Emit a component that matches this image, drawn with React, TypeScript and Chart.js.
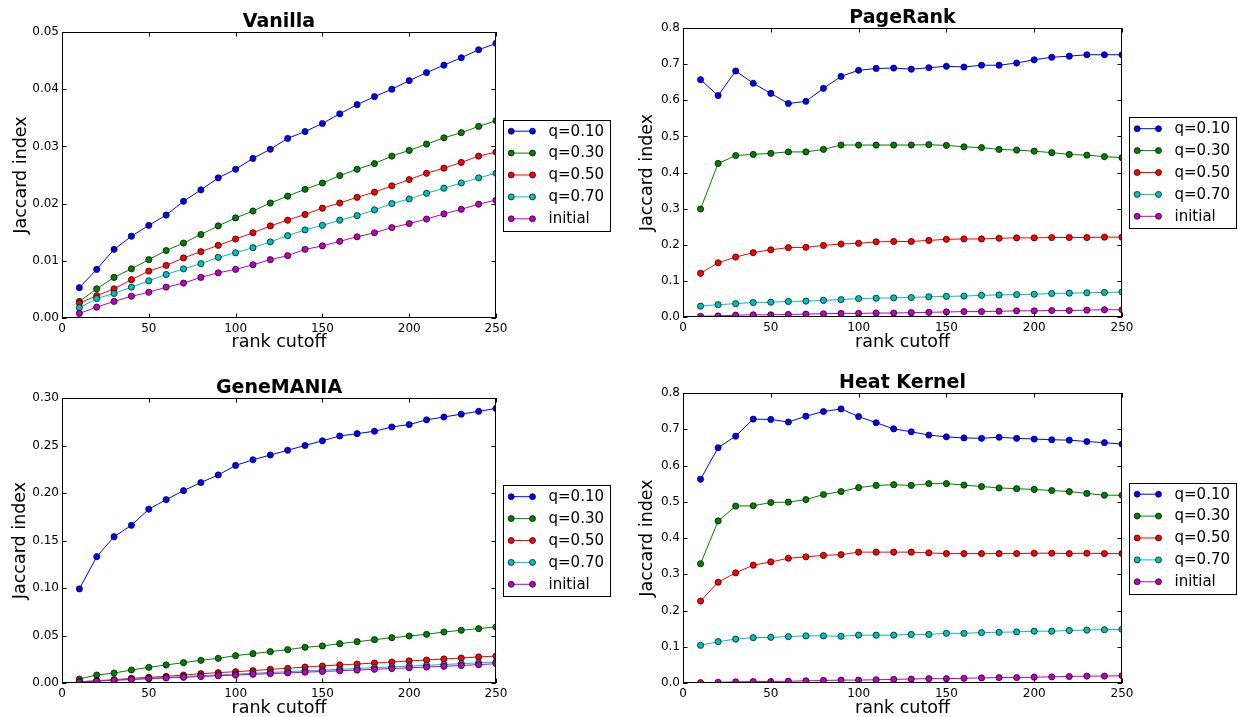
import React, { useEffect, useRef } from 'react';
import { Chart, registerables } from 'chart.js';

Chart.register(...registerables);

const FONT = "'DejaVu Sans', 'Bitstream Vera Sans', sans-serif";

// ---------- data ----------
const rankCutoffs = [10, 20, 30, 40, 50, 60, 70, 80, 90, 100, 110, 120, 130, 140, 150, 160, 170, 180, 190, 200, 210, 220, 230, 240, 250];
const seriesLabels = ['q=0.10', 'q=0.30', 'q=0.50', 'q=0.70', 'initial'];
const seriesColors = ['#0000ff', '#008000', '#ff0000', '#00bfbf', '#bf00bf'];
const xTickValues = [0, 50, 100, 150, 200, 250];

const vanillaQ10 = [0.0053, 0.0085, 0.0120, 0.0143, 0.0162, 0.0180, 0.0204, 0.0224, 0.0245, 0.0260, 0.0279, 0.0295, 0.0314, 0.0326, 0.0340, 0.0357, 0.0373, 0.0387, 0.0400, 0.0415, 0.0429, 0.0442, 0.0455, 0.0469, 0.0480];
const vanillaQ30 = [0.0029, 0.0051, 0.0071, 0.0086, 0.0102, 0.0118, 0.0131, 0.0146, 0.0161, 0.0175, 0.0187, 0.0201, 0.0213, 0.0225, 0.0236, 0.0249, 0.0260, 0.0270, 0.0283, 0.0293, 0.0304, 0.0315, 0.0324, 0.0335, 0.0345];
const vanillaQ50 = [0.0026, 0.0039, 0.0051, 0.0067, 0.0082, 0.0092, 0.0105, 0.0116, 0.0127, 0.0138, 0.0149, 0.0161, 0.0171, 0.0181, 0.0192, 0.0201, 0.0211, 0.0220, 0.0231, 0.0242, 0.0253, 0.0262, 0.0272, 0.0283, 0.0290];
const vanillaQ70 = [0.0018, 0.0034, 0.0043, 0.0054, 0.0065, 0.0076, 0.0086, 0.0095, 0.0106, 0.0114, 0.0123, 0.0133, 0.0144, 0.0154, 0.0162, 0.0171, 0.0179, 0.0189, 0.0200, 0.0208, 0.0218, 0.0227, 0.0236, 0.0245, 0.0253];
const vanillaInitial = [0.0008, 0.0019, 0.0029, 0.0038, 0.0045, 0.0054, 0.0061, 0.0071, 0.0079, 0.0085, 0.0093, 0.0102, 0.0109, 0.0120, 0.0126, 0.0134, 0.0142, 0.0149, 0.0158, 0.0165, 0.0173, 0.0182, 0.0190, 0.0199, 0.0206];

const pageRankQ10 = [0.657, 0.613, 0.681, 0.647, 0.619, 0.591, 0.597, 0.633, 0.666, 0.683, 0.688, 0.689, 0.686, 0.690, 0.694, 0.692, 0.697, 0.697, 0.703, 0.712, 0.719, 0.722, 0.726, 0.726, 0.726];
const pageRankQ30 = [0.299, 0.425, 0.447, 0.450, 0.453, 0.457, 0.457, 0.464, 0.476, 0.476, 0.476, 0.476, 0.476, 0.477, 0.475, 0.471, 0.469, 0.464, 0.462, 0.459, 0.455, 0.450, 0.448, 0.444, 0.441];
const pageRankQ50 = [0.121, 0.150, 0.166, 0.178, 0.186, 0.192, 0.193, 0.198, 0.202, 0.204, 0.208, 0.209, 0.209, 0.212, 0.215, 0.216, 0.216, 0.218, 0.219, 0.219, 0.220, 0.220, 0.220, 0.221, 0.221];
const pageRankQ70 = [0.030, 0.034, 0.037, 0.040, 0.041, 0.043, 0.044, 0.046, 0.048, 0.051, 0.052, 0.053, 0.054, 0.056, 0.057, 0.058, 0.060, 0.061, 0.062, 0.063, 0.065, 0.066, 0.067, 0.068, 0.069];
const pageRankInitial = [0.002, 0.003, 0.005, 0.006, 0.006, 0.007, 0.008, 0.009, 0.010, 0.010, 0.011, 0.011, 0.012, 0.013, 0.014, 0.015, 0.015, 0.016, 0.017, 0.017, 0.018, 0.018, 0.019, 0.020, 0.020];

const geneManiaQ10 = [0.099, 0.133, 0.154, 0.166, 0.183, 0.193, 0.2025, 0.211, 0.219, 0.229, 0.235, 0.240, 0.245, 0.250, 0.255, 0.260, 0.2625, 0.265, 0.2695, 0.272, 0.277, 0.280, 0.283, 0.286, 0.289];
const geneManiaQ30 = [0.0042, 0.0084, 0.0105, 0.0137, 0.0165, 0.0190, 0.0214, 0.0239, 0.0260, 0.0288, 0.0309, 0.0330, 0.0351, 0.0376, 0.0390, 0.0414, 0.0435, 0.0456, 0.0477, 0.0495, 0.0512, 0.0537, 0.0555, 0.0572, 0.0590];
const geneManiaQ50 = [0.0014, 0.0025, 0.0035, 0.0049, 0.0060, 0.0070, 0.0084, 0.0098, 0.0109, 0.0119, 0.0130, 0.0144, 0.0154, 0.0168, 0.0179, 0.0190, 0.0200, 0.0210, 0.0221, 0.0232, 0.0242, 0.0253, 0.0263, 0.0274, 0.0284];
const geneManiaQ70 = [0.0012, 0.0021, 0.0031, 0.0041, 0.0050, 0.0059, 0.0068, 0.0077, 0.0086, 0.0094, 0.0103, 0.0111, 0.0119, 0.0128, 0.0136, 0.0144, 0.0153, 0.0161, 0.0169, 0.0178, 0.0186, 0.0195, 0.0203, 0.0212, 0.0222];
const geneManiaInitial = [0.0010, 0.0019, 0.0028, 0.0037, 0.0045, 0.0053, 0.0060, 0.0068, 0.0076, 0.0083, 0.0091, 0.0099, 0.0106, 0.0114, 0.0121, 0.0129, 0.0136, 0.0144, 0.0152, 0.0160, 0.0168, 0.0176, 0.0184, 0.0193, 0.0203];

const heatKernelQ10 = [0.562, 0.649, 0.681, 0.728, 0.727, 0.720, 0.736, 0.749, 0.756, 0.735, 0.718, 0.701, 0.693, 0.684, 0.679, 0.676, 0.675, 0.678, 0.675, 0.673, 0.671, 0.670, 0.666, 0.663, 0.659];
const heatKernelQ30 = [0.329, 0.447, 0.488, 0.489, 0.498, 0.499, 0.506, 0.520, 0.528, 0.539, 0.545, 0.547, 0.545, 0.550, 0.550, 0.546, 0.542, 0.538, 0.536, 0.534, 0.531, 0.528, 0.523, 0.518, 0.518];
const heatKernelQ50 = [0.226, 0.278, 0.304, 0.325, 0.334, 0.344, 0.348, 0.352, 0.354, 0.361, 0.361, 0.361, 0.361, 0.359, 0.357, 0.357, 0.357, 0.357, 0.357, 0.358, 0.358, 0.357, 0.358, 0.357, 0.357];
const heatKernelQ70 = [0.104, 0.114, 0.121, 0.125, 0.126, 0.128, 0.130, 0.130, 0.129, 0.132, 0.132, 0.132, 0.134, 0.134, 0.137, 0.137, 0.139, 0.140, 0.141, 0.143, 0.143, 0.145, 0.146, 0.147, 0.148];
const heatKernelInitial = [0.001, 0.002, 0.003, 0.004, 0.004, 0.005, 0.006, 0.007, 0.008, 0.008, 0.009, 0.010, 0.011, 0.012, 0.012, 0.013, 0.014, 0.015, 0.015, 0.016, 0.017, 0.018, 0.019, 0.019, 0.020];

const vanillaYTicks = [0, 0.01, 0.02, 0.03, 0.04, 0.05];
const pageRankYTicks = [0, 0.1, 0.2, 0.3, 0.4, 0.5, 0.6, 0.7, 0.8];
const geneManiaYTicks = [0, 0.05, 0.1, 0.15, 0.2, 0.25, 0.3];
const heatKernelYTicks = [0, 0.1, 0.2, 0.3, 0.4, 0.5, 0.6, 0.7, 0.8];

// ---------- layout ----------
type Area = { L: number; T: number; R: number; B: number };
type PanelSpec = {
  title: string;
  series: number[][];
  yTicks: number[];
  decimals: number;
  x: number;
  y: number;
  w: number;
  h: number;
  area: Area;
  yTitlePad: number;
  xTitlePad: number;
};

const panels: PanelSpec[] = [
  {
    title: 'Vanilla',
    series: [vanillaQ10, vanillaQ30, vanillaQ50, vanillaQ70, vanillaInitial],
    yTicks: vanillaYTicks, decimals: 2,
    x: 0, y: 0, w: 619, h: 358,
    area: { L: 62, T: 32, R: 496, B: 318 },
    yTitlePad: 12.25, xTitlePad: 6.5,
  },
  {
    title: 'PageRank',
    series: [pageRankQ10, pageRankQ30, pageRankQ50, pageRankQ70, pageRankInitial],
    yTicks: pageRankYTicks, decimals: 1,
    x: 619, y: 0, w: 619, h: 358,
    area: { L: 64, T: 28, R: 503, B: 317 },
    yTitlePad: 19.85, xTitlePad: 6.5,
  },
  {
    title: 'GeneMANIA',
    series: [geneManiaQ10, geneManiaQ30, geneManiaQ50, geneManiaQ70, geneManiaInitial],
    yTicks: geneManiaYTicks, decimals: 2,
    x: 0, y: 358, w: 619, h: 359,
    area: { L: 62, T: 40, R: 496, B: 325 },
    yTitlePad: 12, xTitlePad: -0.5,
  },
  {
    title: 'Heat Kernel',
    series: [heatKernelQ10, heatKernelQ30, heatKernelQ50, heatKernelQ70, heatKernelInitial],
    yTicks: heatKernelYTicks, decimals: 1,
    x: 619, y: 358, w: 619, h: 359,
    area: { L: 64, T: 35, R: 503, B: 325 },
    yTitlePad: 19.85, xTitlePad: -0.5,
  },
];

function makePlugins(spec: PanelSpec) {
  const frame = {
    id: 'mplFrame',
    afterDatasetsDraw(chart: any) {
      const { ctx, chartArea } = chart;
      const { left, top, right, bottom } = chartArea;
      const xs = chart.scales.x;
      const ys = chart.scales.y;
      ctx.save();
      ctx.strokeStyle = '#000';
      ctx.lineWidth = 1;
      ctx.strokeRect(left + 0.5, top + 0.5, right - left - 1, bottom - top - 1);
      const tl = 4.5;
      ctx.beginPath();
      for (const v of xTickValues) {
        const px = Math.round(xs.getPixelForValue(v)) + 0.5;
        ctx.moveTo(px, bottom);
        ctx.lineTo(px, bottom - tl);
        ctx.moveTo(px, top);
        ctx.lineTo(px, top + tl);
      }
      for (const v of spec.yTicks) {
        const py = Math.round(ys.getPixelForValue(v)) + 0.5;
        ctx.moveTo(left, py);
        ctx.lineTo(left + tl, py);
        ctx.moveTo(right, py);
        ctx.lineTo(right - tl, py);
      }
      ctx.stroke();
      ctx.restore();
    },
  };

  const titleAndLegend = {
    id: 'mplTitleLegend',
    afterDraw(chart: any) {
      const { ctx, chartArea } = chart;
      const { left, top, right, bottom } = chartArea;
      ctx.save();
      // title
      ctx.fillStyle = '#000';
      ctx.font = `bold 19px ${FONT}`;
      ctx.textAlign = 'center';
      ctx.textBaseline = 'alphabetic';
      ctx.fillText(spec.title, (left + right) / 2, top - 5);

      // legend box
      const boxL = right + 6.5;
      const boxW = 107;
      const boxH = 111;
      const cy = (top + bottom) / 2;
      const boxT = cy - boxH / 2;
      ctx.fillStyle = '#fff';
      ctx.fillRect(boxL, boxT, boxW, boxH);
      ctx.strokeStyle = '#000';
      ctx.lineWidth = 1;
      ctx.strokeRect(Math.round(boxL) + 0.5, Math.round(boxT) + 0.5, boxW, boxH);
      const rowGap = 21.9;
      seriesLabels.forEach((label, i) => {
        const ry = cy + (i - 2) * rowGap;
        const x1 = boxL + 8.7;
        const x2 = boxL + 30;
        ctx.strokeStyle = seriesColors[i];
        ctx.lineWidth = 1;
        ctx.beginPath();
        ctx.moveTo(x1, ry);
        ctx.lineTo(x2, ry);
        ctx.stroke();
        for (const mx of [x1, x2]) {
          ctx.beginPath();
          ctx.arc(mx, ry, 3, 0, Math.PI * 2);
          ctx.fillStyle = seriesColors[i];
          ctx.fill();
          ctx.strokeStyle = '#000';
          ctx.lineWidth = 0.7;
          ctx.stroke();
        }
        ctx.fillStyle = '#000';
        ctx.font = `15px ${FONT}`;
        ctx.textAlign = 'left';
        ctx.textBaseline = 'middle';
        ctx.fillText(label, boxL + 46, ry + 0.5);
      });
      ctx.restore();
    },
  };
  return [frame, titleAndLegend];
}

function Panel({ spec }: { spec: PanelSpec }) {
  const ref = useRef<HTMLCanvasElement>(null);
  useEffect(() => {
    const canvas = ref.current;
    if (!canvas) return;
    const { area } = spec;
    const yMax = spec.yTicks[spec.yTicks.length - 1];
    const yStep = spec.yTicks[1] - spec.yTicks[0];
    const chart = new Chart(canvas, {
      type: 'line',
      data: {
        datasets: seriesLabels.map((label, i) => ({
          label,
          data: rankCutoffs.map((x, j) => ({ x, y: spec.series[i][j] })),
          borderColor: seriesColors[i],
          backgroundColor: seriesColors[i],
          borderWidth: 1,
          pointRadius: 3.1,
          pointHoverRadius: 3.1,
          pointBackgroundColor: seriesColors[i],
          pointBorderColor: '#000',
          pointBorderWidth: 0.7,
          tension: 0,
          fill: false,
          clip: 0,
          order: 4 - i,
        })),
      },
      options: {
        responsive: false,
        animation: false,
        devicePixelRatio: 1,
        events: [],
        layout: { padding: { left: 0, top: area.T, right: spec.w - area.R, bottom: 0 } },
        plugins: {
          legend: { display: false },
          tooltip: { enabled: false },
          title: { display: false },
        },
        scales: {
          x: {
            type: 'linear',
            min: 0,
            max: 250,
            grid: { display: false, drawTicks: false },
            border: { display: false },
            ticks: {
              stepSize: 50,
              autoSkip: false,
              maxRotation: 0,
              padding: 4,
              color: '#000',
              font: { family: FONT, size: 12 },
              callback: (v: any) => String(v),
            },
            title: {
              display: true,
              text: 'rank cutoff',
              color: '#000',
              font: { family: FONT, size: 17.5, lineHeight: 1 },
              padding: { top: 0, bottom: spec.xTitlePad },
            },
            afterFit: (s: any) => {
              s.height = spec.h - area.B;
            },
          },
          y: {
            type: 'linear',
            min: 0,
            max: yMax,
            grid: { display: false, drawTicks: false },
            border: { display: false },
            ticks: {
              stepSize: yStep,
              autoSkip: false,
              padding: 3,
              color: '#000',
              font: { family: FONT, size: 12 },
              callback: (v: any) => Number(v).toFixed(spec.decimals),
            },
            title: {
              display: true,
              text: 'Jaccard index',
              color: '#000',
              font: { family: FONT, size: 17.5, lineHeight: 1 },
              padding: { top: spec.yTitlePad, bottom: 0 },
            },
            afterFit: (s: any) => {
              s.width = area.L;
            },
          },
        },
      },
      plugins: makePlugins(spec),
    } as any);
    return () => chart.destroy();
  }, [spec]);
  return (
    <canvas
      ref={ref}
      width={spec.w}
      height={spec.h}
      style={{ position: 'absolute', left: spec.x, top: spec.y, width: spec.w, height: spec.h, display: 'block' }}
    />
  );
}

export default function App() {
  return (
    <div style={{ position: 'absolute', left: 0, top: 0, width: 1238, height: 717, background: '#fff', overflow: 'hidden' }}>
      {panels.map((p) => (
        <Panel key={p.title} spec={p} />
      ))}
    </div>
  );
}
